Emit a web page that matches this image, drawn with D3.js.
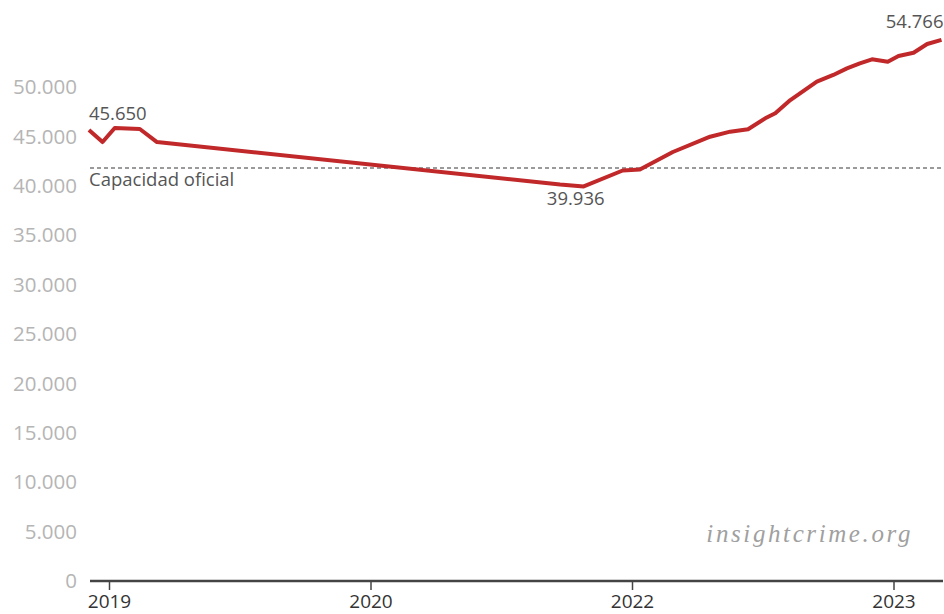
<!DOCTYPE html>
<html lang="es">
<head>
<meta charset="utf-8">
<title>Población penitenciaria</title>
<script src="https://d3js.org/d3.v7.min.js"></script>
<style>
  body { margin: 0; background: #fff; }
  svg text { font-family: "Open Sans", sans-serif; }
</style>
</head>
<body>
<script>
// data
const dates = ["2018-12-04","2018-12-23","2019-01-09","2019-02-13","2019-03-09",
  "2021-06-14","2021-08-19","2021-12-06","2022-01-12","2022-02-27","2022-04-20",
  "2022-05-18","2022-06-12","2022-07-06","2022-07-20","2022-08-10","2022-09-16",
  "2022-10-09","2022-10-28","2022-11-15","2022-12-02","2022-12-24","2023-01-08",
  "2023-01-29","2023-02-17","2023-03-09"];
const values = [45650,44430,45850,45750,44430,40130,39936,41550,41650,43420,44970,
  45480,45720,46830,47340,48680,50540,51220,51890,52400,52800,52560,53140,
  53470,54350,54766];
const capacity = 41800;
const capacityLabel = "Capacidad oficial";
const tickDates = ["2019-01-01","2020-01-01","2022-01-01","2023-01-01"];
const yTicks = [0,5000,10000,15000,20000,25000,30000,35000,40000,45000,50000];
const credit = "insightcrime.org";

const W = 944, H = 614;
const margin = {left: 90, right: 1, top: 0, bottom: 33};
const width = W - margin.left - margin.right;
const height = H - margin.top - margin.bottom;

const parse = d3.timeParse("%Y-%m-%d");
const data = dates.map((d, i) => ({date: parse(d), value: values[i]}));

const es = d3.formatLocale({decimal: ",", thousands: ".", grouping: [3], currency: ["$", ""]});
const fmt = es.format(",d");

// the axis gives the same width to 2019-2020, 2020-2022 and 2022-2023
const tickStep = 261.5;
const x = d3.scaleTime()
    .domain(tickDates.map(parse))
    .range(tickDates.map((d, i) => 19 + i * tickStep));

const y = d3.scaleLinear()
    .domain([0, 50000])
    .range([height, height - 494]);

const svg = d3.select("body").append("svg")
    .attr("width", W)
    .attr("height", H);

const g = svg.append("g")
    .attr("transform", "translate(" + margin.left + "," + margin.top + ")");

// y labels, no axis line
g.selectAll(".ylab")
  .data(yTicks)
  .enter().append("text")
    .attr("class", "ylab")
    .attr("x", -13)
    .attr("y", d => y(d))
    .attr("dy", "0.35em")
    .attr("text-anchor", "end")
    .style("font-size", "20.5px")
    .style("fill", "#b5b5b5")
    .text(d => fmt(d));

// watermark
g.append("text")
    .attr("x", 823)
    .attr("y", y(5000) + 10)
    .attr("text-anchor", "end")
    .style("font-family", "'Liberation Serif', serif")
    .style("font-style", "italic")
    .style("font-size", "25px")
    .style("letter-spacing", "2.6px")
    .style("fill", "#a0a0a0")
    .text(credit);

// capacity
g.append("line")
    .attr("x1", 0)
    .attr("x2", width)
    .attr("y1", y(capacity))
    .attr("y2", y(capacity))
    .attr("stroke", "#7a7a7a")
    .attr("stroke-width", 1.4)
    .attr("stroke-dasharray", "4,3");

g.append("text")
    .attr("x", -1)
    .attr("y", y(capacity) + 18)
    .style("font-size", "18.5px")
    .style("fill", "#555")
    .text(capacityLabel);

// x axis
const xAxis = g.append("g")
    .attr("transform", "translate(0," + height + ")")
    .call(d3.axisBottom(x)
        .tickValues(tickDates.map(parse))
        .tickFormat(d3.timeFormat("%Y"))
        .tickSize(9)
        .tickPadding(5));
xAxis.select(".domain").remove();
xAxis.selectAll(".tick line").attr("stroke", "#444").attr("stroke-width", 1.5);
xAxis.selectAll(".tick text")
    .style("font-size", "19px")
    .style("font-family", "'Open Sans', sans-serif")
    .style("fill", "#333");
xAxis.append("line")
    .attr("x1", 0)
    .attr("x2", width)
    .attr("stroke", "#444")
    .attr("stroke-width", 2.5);

// line
const line = d3.line()
    .x(d => x(d.date))
    .y(d => y(d.value));

g.append("path")
    .datum(data)
    .attr("fill", "none")
    .attr("stroke", "#c0282a")
    .attr("stroke-width", 4)
    .attr("stroke-linejoin", "round")
    .attr("d", line);

// labels for first, lowest and last point
const first = data[0];
const low = data[d3.minIndex(data, d => d.value)];
const last = data[data.length - 1];

function label(d, anchor, dx, dy) {
  g.append("text")
      .attr("x", x(d.date) + dx)
      .attr("y", y(d.value) + dy)
      .attr("text-anchor", anchor)
      .style("font-size", "18.5px")
      .style("fill", "#555")
      .text(fmt(d.value));
}
label(first, "start", 0, -10);
label(low, "middle", -8, 19);
label(last, "end", 2, -12);
</script>
</body>
</html>
